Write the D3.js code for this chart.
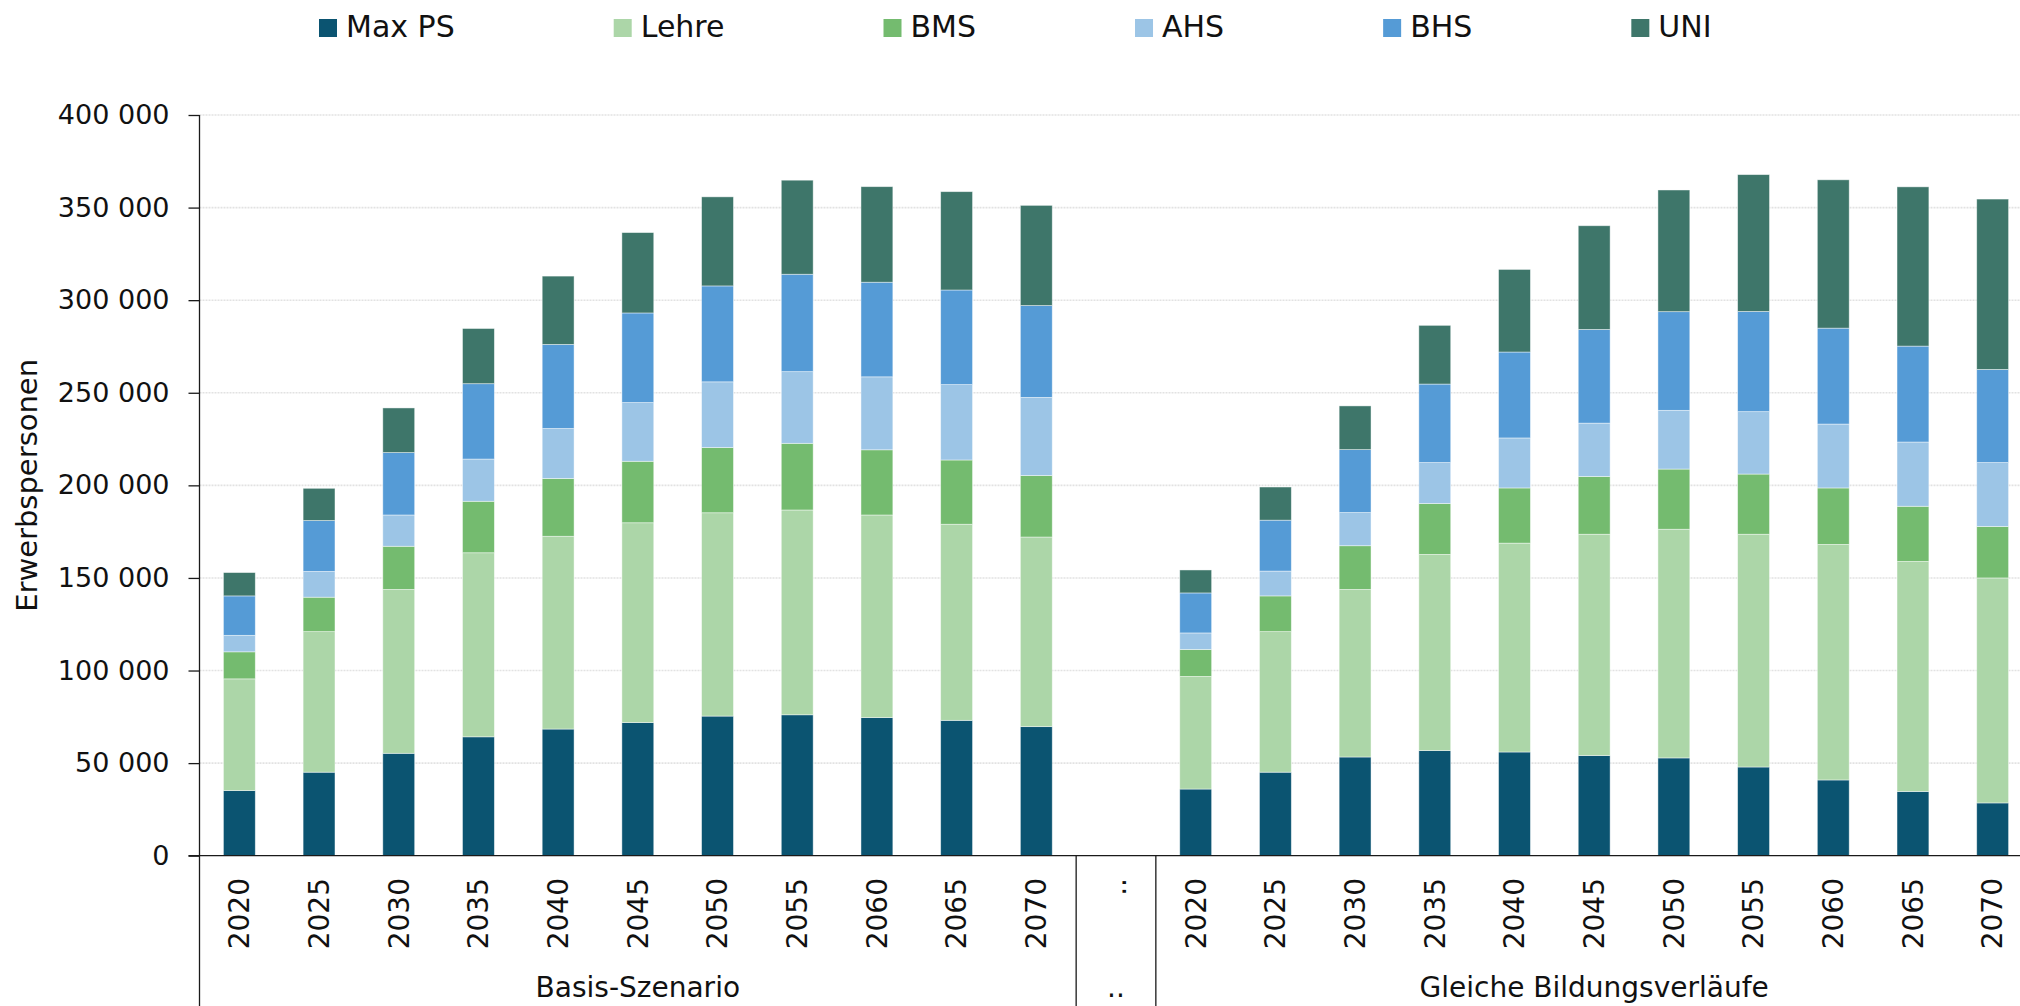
<!DOCTYPE html>
<html>
<head>
<meta charset="utf-8">
<script src="https://cdn.jsdelivr.net/npm/d3@7"></script>
<style>
  body { margin: 0; background: #fff; }
  svg { display: block; font-family: "DejaVu Sans", sans-serif; }
</style>
</head>
<body>
<svg width="2020" height="1006"></svg>
<script>
// DATA

var years = ["2020", "2025", "2030", "2035", "2040", "2045", "2050", "2055", "2060", "2065", "2070"];
var scenarios = ["Basis-Szenario", "Gleiche Bildungsverläufe"];
var series = ["Max PS", "Lehre", "BMS", "AHS", "BHS", "UNI"];
var colors = ["#0b5471", "#acd6a8", "#74bb6f", "#9cc5e6", "#559bd6", "#3e766a"];
var yTicks = [0, 50000, 100000, 150000, 200000, 250000, 300000, 350000, 400000];

// Basis-Szenario
var basisMaxPS = [35200, 45100, 55300, 64200, 68400, 71900, 75400, 76100, 74600, 73100, 69700];
var basisLehre = [60300, 75900, 88500, 99400, 104100, 107900, 109800, 110600, 109400, 105900, 102400];
var basisBMS   = [14600, 18600, 23300, 27800, 31200, 33200, 35200, 36000, 35200, 34700, 33200];
var basisAHS   = [8900, 13900, 16900, 22800, 27000, 31700, 35500, 38700, 39400, 40700, 42200];
var basisBHS   = [21300, 27500, 33700, 40700, 45400, 48400, 51800, 52600, 51100, 51100, 49600];
var basisUNI   = [12600, 17400, 24100, 29800, 36900, 43400, 48100, 50800, 51600, 53100, 54100];

// Gleiche Bildungsverlaeufe
var gleichMaxPS = [36000, 45100, 53300, 56800, 56000, 54100, 52800, 47900, 40900, 34700, 28500];
var gleichLehre = [60800, 75900, 90500, 105900, 112800, 119500, 123500, 125700, 127200, 124200, 121500];
var gleichBMS   = [14600, 19300, 23600, 27500, 29800, 31200, 32500, 32500, 30500, 29800, 27800];
var gleichAHS   = [8900, 13400, 17900, 22100, 27000, 28800, 31700, 33700, 34500, 34700, 34500];
var gleichBHS   = [21600, 27500, 34000, 42400, 46400, 50600, 53300, 54100, 51800, 51800, 50300];
var gleichUNI   = [12400, 17900, 23600, 31700, 44600, 56000, 65700, 73900, 80100, 86000, 92000];

var basisValues = [basisMaxPS, basisLehre, basisBMS, basisAHS, basisBHS, basisUNI];
var gleichValues = [gleichMaxPS, gleichLehre, gleichBMS, gleichAHS, gleichBHS, gleichUNI];

// build rows: 11 basis, one gap column, 11 gleiche
var rows = [];
function addRows(prefix, values) {
    years.forEach(function (yr, i) {
        var r = { key: prefix + yr, label: yr };
        series.forEach(function (s, j) { r[s] = values[j][i]; });
        rows.push(r);
    });
}
addRows("B", basisValues);
var gapRow = { key: "gap", label: ".." };
series.forEach(function (s) { gapRow[s] = 0; });
rows.push(gapRow);
addRows("G", gleichValues);

// SETUP

var svg = d3.select("svg");
var axisY0 = 855.7, axisTop = 115, left = 199.5, right = 2032.5;

var x = d3.scaleBand()
    .domain(rows.map(function (d) { return d.key; }))
    .range([left, right])
    .paddingInner(0.6)
    .paddingOuter(0.3);

var y = d3.scaleLinear().domain([0, 400000]).range([axisY0, axisTop]);

var fmt = d3.formatLocale({ decimal: ",", thousands: " ", grouping: [3], currency: ["", "€"] }).format(",d");

// gridlines
svg.append("g").selectAll("line")
    .data(yTicks.slice(1))
    .enter().append("line")
    .attr("x1", left).attr("x2", 2020)
    .attr("y1", function (d) { return y(d); })
    .attr("y2", function (d) { return y(d); })
    .attr("stroke", "#e2e2e2")
    .attr("stroke-width", 1.6)
    .attr("stroke-dasharray", "2,1");

// bars
var stacked = d3.stack().keys(series)(rows);

svg.append("g").selectAll("g")
    .data(stacked)
    .enter().append("g")
    .attr("fill", function (d, i) { return colors[i]; })
    .selectAll("rect")
    .data(function (d) { return d.filter(function (p) { return p.data.key !== "gap"; }); })
    .enter().append("rect")
    .attr("x", function (d) { return x(d.data.key); })
    .attr("width", x.bandwidth())
    .attr("y", function (d) { return y(d[1]); })
    .attr("height", function (d) { return y(d[0]) - y(d[1]); })
    .attr("stroke", "#ffffff")
    .attr("stroke-opacity", 0.55)
    .attr("stroke-width", 0.8);

// y axis
var yAxis = svg.append("g")
    .attr("transform", "translate(" + left + ",0)")
    .call(d3.axisLeft(y).tickValues(yTicks).tickSize(11).tickPadding(19).tickFormat(fmt));
yAxis.select(".domain").remove();
yAxis.selectAll(".tick line").attr("stroke", "#1a1a1a").attr("stroke-width", 1.3);
yAxis.selectAll(".tick text")
    .attr("font-family", "DejaVu Sans")
    .attr("font-size", 27)
    .attr("fill", "#111");

svg.append("line")
    .attr("x1", left).attr("x2", left)
    .attr("y1", axisTop).attr("y2", 1006)
    .attr("stroke", "#1a1a1a").attr("stroke-width", 1.3);

// x axis line
svg.append("line")
    .attr("x1", left - 11).attr("x2", 2020)
    .attr("y1", axisY0).attr("y2", axisY0)
    .attr("stroke", "#1a1a1a").attr("stroke-width", 1.3);

// category labels
svg.append("g").selectAll("text")
    .data(rows)
    .enter().append("text")
    .attr("transform", function (d) {
        return "translate(" + (x(d.key) + x.bandwidth() / 2) + ",878) rotate(-90)";
    })
    .attr("text-anchor", "end")
    .attr("dy", "0.35em")
    .attr("font-size", 28)
    .attr("fill", "#111")
    .text(function (d) { return d.label; });

// group separators and labels
var gapStart = x("gap") - x.step() * x.paddingInner() / 2,
    gapEnd = gapStart + x.step();

svg.append("g").selectAll("line")
    .data([gapStart, gapEnd])
    .enter().append("line")
    .attr("x1", function (d) { return d; })
    .attr("x2", function (d) { return d; })
    .attr("y1", axisY0).attr("y2", 1006)
    .attr("stroke", "#1a1a1a").attr("stroke-width", 1.3);

var groups = [
    { label: scenarios[0], from: left, to: gapStart },
    { label: "..", from: gapStart, to: gapEnd },
    { label: scenarios[1], from: gapEnd, to: right }
];

svg.append("g").selectAll("text")
    .data(groups)
    .enter().append("text")
    .attr("x", function (d) { return (d.from + d.to) / 2; })
    .attr("y", 997)
    .attr("text-anchor", "middle")
    .attr("font-size", 28)
    .attr("fill", "#111")
    .text(function (d) { return d.label; });

// y axis title
svg.append("text")
    .attr("transform", "translate(37," + ((axisY0 + axisTop) / 2) + ") rotate(-90)")
    .attr("text-anchor", "middle")
    .attr("font-size", 29)
    .attr("fill", "#111")
    .text("Erwerbspersonen");

// legend
var legend = svg.append("g");
var lx = 319;
series.forEach(function (s, i) {
    legend.append("rect")
        .attr("x", lx).attr("y", 19)
        .attr("width", 18).attr("height", 18)
        .attr("fill", colors[i]);
    var t = legend.append("text")
        .attr("x", lx + 27).attr("y", 37)
        .attr("font-size", 30)
        .attr("fill", "#111")
        .text(s);
    lx += 27 + t.node().getComputedTextLength() + 159;
});
</script>
</body>
</html>
